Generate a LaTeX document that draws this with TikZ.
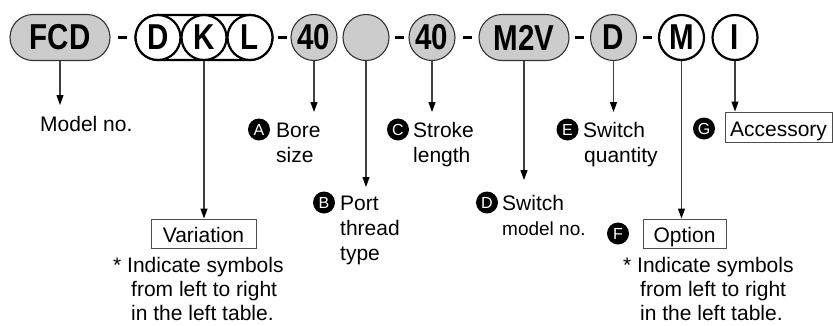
\documentclass[tikz,border=0pt]{standalone}
\usepackage{fontspec}
\setmainfont{Liberation Sans}
\newfontfamily\boldlab[FakeStretch=0.82]{Liberation Sans Bold}
\usetikzlibrary{arrows.meta,calc}
\begin{document}
\begin{tikzpicture}[x=1pt,y=-1pt,
  every node/.style={font=\fontsize{21}{25}\selectfont},
  code/.style={font=\boldlab\fontsize{36}{38}\selectfont, inner sep=0pt},
  pill/.style={code, draw=black!80, fill=black!20, line width=1.1pt, rounded corners=23pt, minimum height=46pt},
  gcirc/.style={code, circle, draw=black!80, fill=black!20, line width=1.1pt, minimum size=46pt},
  ring/.style={code, circle, draw=black, fill=white, line width=2.2pt, minimum size=45pt},
  hy/.style={line width=3.6pt, black},
  arr/.style={draw=black!75, line width=1.1pt, -{Triangle[width=7pt,length=10pt,color=black]}},
  badge/.style={circle, fill=black, text=white, minimum size=22pt, inner sep=0pt, font=\fontsize{16}{16}\selectfont},
  lbl/.style={anchor=base west, inner sep=0pt},
  box/.style={draw=black!70, line width=1pt, inner sep=0pt, text height=18pt, text depth=0pt, minimum height=29pt}
]
\useasboundingbox (0,0) rectangle (833,325);

% code row
\node[pill, minimum width=100pt] (fcd) at (60,37.5) {FCD};
\node[code, draw=black, line width=2.2pt, rounded corners=23pt, minimum width=137pt, minimum height=45pt] (dkl) at (204,37.5) {};
\node[ring] (d) at (158,37.5) {D};
\node[ring] (k) at (204,37.5) {K};
\node[ring] (l) at (250,37.5) {L};
\node[gcirc] (bore) at (314,37.5) {40};
\node[gcirc] (port) at (366,37.5) {};
\node[gcirc] (stroke) at (432,37.5) {40};
\node[pill, minimum width=90pt] (m2v) at (524,37.5) {M2V};
\node[gcirc] (qty) at (613.5,37.5) {D};
\node[ring] (opt) at (681.5,37.5) {M};
\node[ring] (acc) at (735,37.5) {I};

% hyphens
\foreach \a/\b in {fcd/dkl, dkl/bore, port/stroke, stroke/m2v, m2v/qty, qty/opt}
  \draw[hy] ($(\a.east)!0.5!(\b.west)+(-4.5,0)$) -- ++(9,0);

% labels
\node[lbl] (lmodel) at (40,131) {Model no.};
\node[badge] (ba) at (259,129.5) {A};
\node[lbl] (lbore) at (276,137) {\begin{tabular}[t]{@{}l@{}}Bore\\size\end{tabular}};
\node[badge] (bb) at (324,202.5) {B};
\node[lbl] (lport) at (340,210) {\begin{tabular}[t]{@{}l@{}}Port\\thread\\type\end{tabular}};
\node[badge] (bc) at (398,129.5) {C};
\node[lbl] (lstroke) at (413,137) {\begin{tabular}[t]{@{}l@{}}Stroke\\length\end{tabular}};
\node[badge] (bd) at (487,202.5) {D};
\node[lbl] (lsw) at (502,210) {\begin{tabular}[t]{@{}l@{}}Switch\\{\fontsize{19}{25}\selectfont model no.}\end{tabular}};
\node[badge] (be) at (567.5,129.5) {E};
\node[lbl] (lqty) at (583,137) {\begin{tabular}[t]{@{}l@{}}Switch\\\hspace*{1pt}quantity\end{tabular}};
\node[badge] (bf) at (618,233.5) {F};
\node[badge] (bg) at (704,128.5) {G};

\node[box, minimum width=105pt] (var) at (203.5,233.5) {Variation};
\node[box, minimum width=83pt] (lopt) at (684.5,233.5) {Option};
\node[box, minimum width=107pt, minimum height=30pt] (lacc) at (778.5,127) {Accessory};

\node[lbl] (n1a) at (113,272.5) {* Indicate symbols};
\node[lbl] (n1b) at (131,296.5) {from left to right};
\node[lbl] (n1c) at (131,320.5) {in the left table.};
\node[lbl] (n2a) at (623,272.5) {* Indicate symbols};
\node[lbl] (n2b) at (640,296.5) {from left to right};
\node[lbl] (n2c) at (640,320.5) {in the left table.};

% connectors
\coordinate (e1) at (60,105);
\coordinate (e2) at (314,112);
\coordinate (e3) at (366,187);
\coordinate (e4) at (432,112);
\coordinate (e5) at (524,180);
\coordinate (e6) at (613.5,112);
\draw[arr] (fcd.south) -- (e1);
\draw[arr] (k.south) -- (k.south |- var.north);
\draw[arr] (bore.south) -- (e2);
\draw[arr] (port.south) -- (e3);
\draw[arr] (stroke.south) -- (e4);
\draw[arr] (m2v.south) -- (e5);
\draw[arr] (qty.south) -- (e6);
\draw[arr] (opt.south) -- (opt.south |- lopt.north);
\draw[arr] (acc.south) -- (acc.south |- lacc.north);
\end{tikzpicture}
\end{document}
